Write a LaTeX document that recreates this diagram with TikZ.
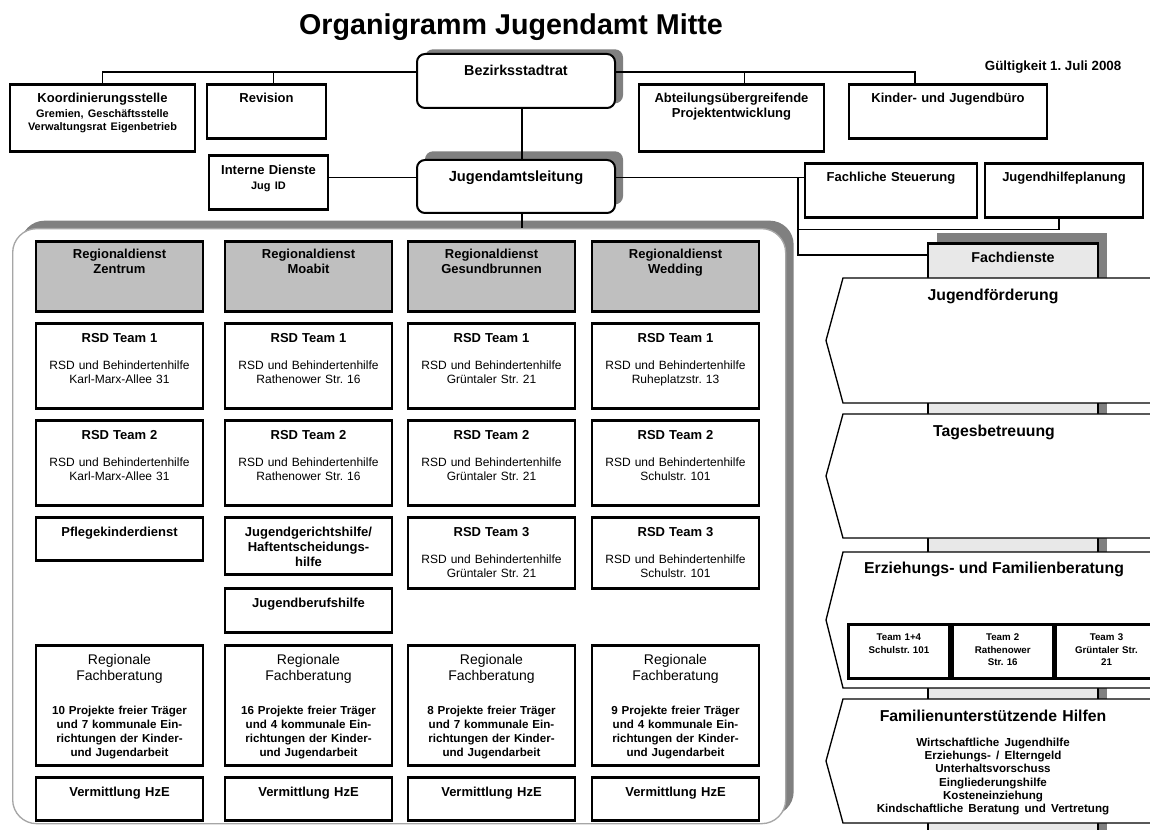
\documentclass[tikz,border=0pt]{standalone}
\usepackage{fontspec}
\setmainfont{Liberation Sans}
\usepackage{xcolor}
\usepackage{tikz}
\usetikzlibrary{shapes,positioning,shadows}
\frenchspacing

\newcommand{\boxtitle}[1]{{\bfseries\fontsize{9.75}{10}\selectfont #1}}

\begin{document}
\begin{tikzpicture}[x=0.75pt, y=-0.75pt, node distance=6.9pt]
    % Define styles
    \tikzstyle{box} = [rectangle, draw=black, line width=2.1pt, fill=white, align=center, inner xsep=2pt, inner ysep=0pt, anchor=north, text height=14.5pt, font=\bfseries\fontsize{9.75}{11.25}\selectfont]
    \tikzstyle{col} = [box, text width=121.25pt]
    \tikzstyle{region} = [col, fill=black!25, text height=13pt, text depth=39.5pt]
    \tikzstyle{team} = [col, font=\fontsize{9}{10}\selectfont, text depth=49.25pt]
    \tikzstyle{fach} = [col, font=\bfseries\fontsize{8.7}{10.5}\selectfont, text height=14.25pt, text depth=75.75pt]
    \tikzstyle{head} = [rectangle, rounded corners=6pt, draw=black, line width=1.5pt, fill=white, text width=144.5pt, align=center, inner xsep=2pt, inner ysep=0pt, anchor=north, text height=16.5pt, text depth=24pt, font=\bfseries\fontsize{10.75}{12}\selectfont]
    \tikzstyle{bigframe} = [rectangle, rounded corners=18pt, draw=black!35, line width=1pt, fill=white, anchor=north west, inner sep=0pt, minimum width=579.75pt, minimum height=446.25pt]
    \tikzstyle{cell} = [box, anchor=north west, text width=71.75pt, text height=12.4pt, text depth=28.1pt, font=\bfseries\fontsize{7.3}{9.2}\selectfont]
    \tikzstyle{panel} = [draw=black, line width=1pt, fill=white]
    \tikzstyle{paneltitle} = [anchor=base, font=\bfseries\fontsize{11.85}{14}\selectfont]
    \tikzstyle{link} = [line width=0.8pt]

    \useasboundingbox (0,0) rectangle (1150,830);

    % Title
    \node [anchor=base, font=\bfseries\fontsize{21.5}{24}\selectfont] (title) at (511,35) {Organigramm Jugendamt Mitte};
    \node [anchor=base east, font=\bfseries\fontsize{10}{12}\selectfont] (valid) at (1126,71) {Gültigkeit 1. Juli 2008};

    % Regional services frame
    \node [bigframe, drop shadow={shadow xshift=6pt, shadow yshift=6pt, fill=black!50, opacity=1}] (cont) at (12,228) {};

    % Management
    \node [head, drop shadow={shadow xshift=6pt, shadow yshift=3.5pt, fill=black!50, opacity=1}] (bz) at (516,53) {Bezirksstadtrat};
    \node [head, text depth=23.25pt, font=\bfseries\fontsize{11}{12}\selectfont, drop shadow={shadow xshift=6pt, shadow yshift=6.5pt, fill=black!50, opacity=1}] (jl) at (516,159) {Jugendamtsleitung};

    % Staff units
    \node [box, text width=134.75pt, text height=13.9pt, text depth=36.35pt] (koord) at (102.5,83) {Koordinierungsstelle\\[1.5pt]{\fontsize{8.2}{9.75}\selectfont Gremien, Geschäftsstelle\\Verwaltungsrat Eigenbetrieb\par}};
    \node [box, text width=85.25pt, text height=13.9pt, text depth=26.6pt] (rev) at (266.5,83) {Revision};
    \node [box, text width=134.75pt, text height=13.9pt, text depth=36.35pt] (abt) at (731.5,83) {Abteilungsübergreifende\\Projektentwicklung};
    \node [box, text width=144.5pt, text height=13.9pt, text depth=26.6pt] (kjb) at (948,83) {Kinder- und Jugendbüro};
    \node [box, text width=85.25pt, text height=14.6pt, text depth=25.9pt] (intd) at (268.5,154) {Interne Dienste\\{\fontsize{8.2}{11.25}\selectfont Jug ID\par}};
    \node [box, text width=125pt, text height=13.9pt, text depth=26.6pt] (fst) at (891,162) {Fachliche Steuerung};
    \node [box, text width=114.5pt, text height=13.9pt, text depth=26.6pt] (jhp) at (1064,162) {Jugendhilfeplanung};

    % Regionaldienst Zentrum
    \node [region] (zen_rd) at (119.5,240) {Regionaldienst\\Zentrum};
    \node [team, below=of zen_rd] (zen_t1) {\boxtitle{RSD Team 1}\\[10.25pt]RSD und Behindertenhilfe\\Karl-Marx-Allee 31};
    \node [team, below=of zen_t1] (zen_t2) {\boxtitle{RSD Team 2}\\[10.25pt]RSD und Behindertenhilfe\\Karl-Marx-Allee 31};
    \node [col, below=of zen_t2, text depth=17.75pt] (zen_pk) {Pflegekinderdienst};
    \node [fach] (zen_rf) at (119.5,644) {{\mdseries\fontsize{10.5}{11.75}\selectfont Regionale\\Fachberatung\\[15pt]}10 Projekte freier Träger\\und 7 kommunale Ein-\\richtungen der Kinder-\\und Jugendarbeit};
    \node [col, below=of zen_rf, text depth=17.75pt] (zen_hze) {Vermittlung HzE};

    % Regionaldienst Moabit
    \node [region] (moa_rd) at (308.5,240) {Regionaldienst\\Moabit};
    \node [team, below=of moa_rd] (moa_t1) {\boxtitle{RSD Team 1}\\[10.25pt]RSD und Behindertenhilfe\\Rathenower Str. 16};
    \node [team, below=of moa_t1] (moa_t2) {\boxtitle{RSD Team 2}\\[10.25pt]RSD und Behindertenhilfe\\Rathenower Str. 16};
    \node [col, below=of moa_t2, text depth=28.25pt] (moa_jgh) {Jugendgerichtshilfe/\\Haftentscheidungs-\\hilfe};
    \node [col, below=8.4pt of moa_jgh, text depth=18.5pt] (moa_jbh) {Jugendberufshilfe};
    \node [fach] (moa_rf) at (308.5,644) {{\mdseries\fontsize{10.5}{11.75}\selectfont Regionale\\Fachberatung\\[15pt]}16 Projekte freier Träger\\und 4 kommunale Ein-\\richtungen der Kinder-\\und Jugendarbeit};
    \node [col, below=of moa_rf, text depth=17.75pt] (moa_hze) {Vermittlung HzE};

    % Regionaldienst Gesundbrunnen
    \node [region] (ges_rd) at (491.5,240) {Regionaldienst\\Gesundbrunnen};
    \node [team, below=of ges_rd] (ges_t1) {\boxtitle{RSD Team 1}\\[10.25pt]RSD und Behindertenhilfe\\Grüntaler Str. 21};
    \node [team, below=of ges_t1] (ges_t2) {\boxtitle{RSD Team 2}\\[10.25pt]RSD und Behindertenhilfe\\Grüntaler Str. 21};
    \node [team, below=of ges_t2, text depth=38.75pt] (ges_t3) {\boxtitle{RSD Team 3}\\[10.25pt]RSD und Behindertenhilfe\\Grüntaler Str. 21};
    \node [fach] (ges_rf) at (491.5,644) {{\mdseries\fontsize{10.5}{11.75}\selectfont Regionale\\Fachberatung\\[15pt]}8 Projekte freier Träger\\und 7 kommunale Ein-\\richtungen der Kinder-\\und Jugendarbeit};
    \node [col, below=of ges_rf, text depth=17.75pt] (ges_hze) {Vermittlung HzE};

    % Regionaldienst Wedding
    \node [region] (wed_rd) at (675.5,240) {Regionaldienst\\Wedding};
    \node [team, below=of wed_rd] (wed_t1) {\boxtitle{RSD Team 1}\\[10.25pt]RSD und Behindertenhilfe\\Ruheplatzstr. 13};
    \node [team, below=of wed_t1] (wed_t2) {\boxtitle{RSD Team 2}\\[10.25pt]RSD und Behindertenhilfe\\Schulstr. 101};
    \node [team, below=of wed_t2, text depth=38.75pt] (wed_t3) {\boxtitle{RSD Team 3}\\[10.25pt]RSD und Behindertenhilfe\\Schulstr. 101};
    \node [fach] (wed_rf) at (675.5,644) {{\mdseries\fontsize{10.5}{11.75}\selectfont Regionale\\Fachberatung\\[15pt]}9 Projekte freier Träger\\und 4 kommunale Ein-\\richtungen der Kinder-\\und Jugendarbeit};
    \node [col, below=of wed_rf, text depth=17.75pt] (wed_hze) {Vermittlung HzE};

    % Fachdienste
    \node [box, fill=black!9, text width=123.5pt, text height=14.6pt, text depth=440pt, font=\bfseries\fontsize{10.7}{12}\selectfont, drop shadow={shadow xshift=6.75pt, shadow yshift=7.5pt, fill=black!50, opacity=1}] (fd) at (1013,242) {Fachdienste};
    \draw [panel] (843,278) -- (1165,278) -- (1165,403) -- (843,403) -- (826,340.5) -- cycle;
    \draw [panel] (843,414) -- (1165,414) -- (1165,538) -- (843,538) -- (826,476) -- cycle;
    \draw [panel] (843,552) -- (1165,552) -- (1165,688) -- (843,688) -- (826,620) -- cycle;
    \draw [panel] (843,699) -- (1165,699) -- (1165,823) -- (843,823) -- (826,761) -- cycle;
    \node [paneltitle] (jf) at (993,301) {Jugendförderung};
    \node [paneltitle] (tb) at (994,437) {Tagesbetreuung};
    \node [paneltitle] (efb) at (994,573) {Erziehungs- und Familienberatung};
    \node [paneltitle, text width=290pt, align=center] (fuh) at (993,721) {Familienunterstützende Hilfen\\[8.75pt]{\fontsize{8.7}{10}\selectfont Wirtschaftliche Jugendhilfe\\Erziehungs- / Elterngeld\\Unterhaltsvorschuss\\Eingliederungshilfe\\Kosteneinziehung\\Kindschaftliche Beratung und Vertretung\par}};
    \node [cell] (efb_t1) at (847,623) {Team 1+4\\Schulstr. 101};
    \node [cell, right=0pt of efb_t1] (efb_t2) {Team 2\\Rathenower\\Str. 16};
    \node [cell, right=0pt of efb_t2] (efb_t3) {Team 3\\Grüntaler Str.\\21};

    % Connections
    \coordinate (bz_l) at ([yshift=6.75pt]bz.west);
    \coordinate (bz_r) at ([yshift=6.75pt]bz.east);
    \coordinate (jl_l) at ([yshift=7pt]jl.west);
    \coordinate (jl_r) at ([yshift=7pt]jl.east);
    \coordinate (jl_b) at ([xshift=4.5pt]jl.south);
    \coordinate (split) at ([xshift=136.5pt]jl_r);
    \draw [link] (bz_l) -| (koord.north);
    \draw [link] (bz_l) -| ([xshift=5pt]rev.north);
    \draw [link] (bz_r) -| ([xshift=10pt]abt.north);
    \draw [link] (bz_r) -| ([xshift=-24.75pt]kjb.north);
    \draw [link] ([xshift=4.5pt]bz.south) -- ([xshift=4.5pt]jl.north);
    \draw [link] (jl_l) -- (intd.east |- jl_l);
    \draw [link] (jl_r) -- (fst.west |- jl_r);
    \draw [link] (split) |- ([yshift=-9.75pt]fd.north west);
    \draw [link] ([xshift=-3.75pt]jhp.south) |- ([yshift=-39pt]split);
    \draw [link] (jl_b) -- (jl_b |- cont.north);
\end{tikzpicture}
\end{document}
